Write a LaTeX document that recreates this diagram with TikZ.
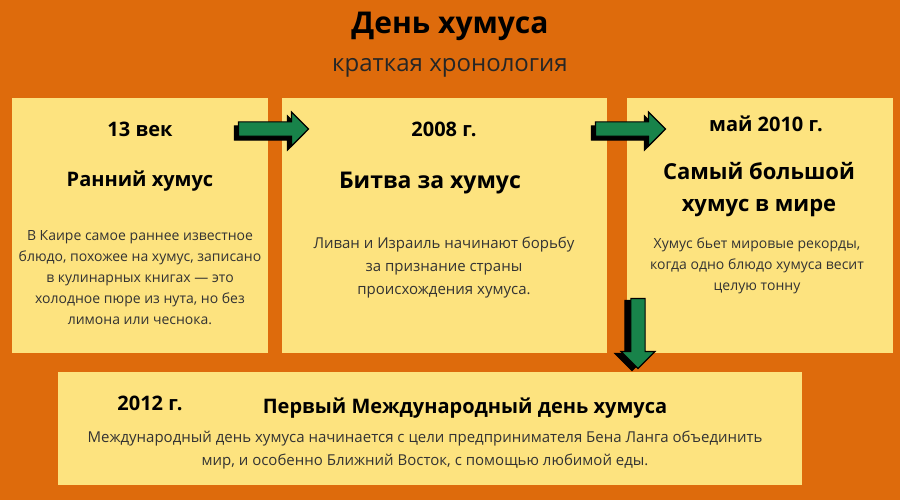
\documentclass[tikz,border=0pt]{standalone}
\usepackage{fontspec}
\setmainfont{Open Sans}
\usetikzlibrary{shapes.arrows}
\definecolor{bg}{HTML}{DE6B0C}
\definecolor{card}{HTML}{FDE37F}
\definecolor{grn}{HTML}{18834A}
\tikzset{
 card/.style={fill=card,draw=none},
 hd/.style={font=\bfseries\fontsize{20}{24}\selectfont,align=center},
 bd/.style={font=\fontsize{14}{21}\selectfont,align=center,text=black!80},
 arr/.style={single arrow,fill=grn,draw=black,line width=1.2pt,minimum height=70pt,minimum width=34pt,single arrow head extend=5pt,inner sep=3pt},
 arrsh/.style={arr,fill=black}
}
\begin{document}
\begin{tikzpicture}[x=1pt,y=-1pt]
\fill[bg] (0,0) rectangle (900,500);
\useasboundingbox (0,0) rectangle (900,500);
\node[font=\bfseries\fontsize{30}{34}\selectfont] (t) at (450,26) {День хумуса};
\node[font=\fontsize{24}{28}\selectfont,text=black!85] (st) at (450,68) {краткая хронология};
\fill[card] (12,98) rectangle (268,353);
\fill[card] (282,98) rectangle (607,353);
\fill[card] (627,98) rectangle (893,353);
\fill[card] (58,372) rectangle (802,485);
\node[hd] (y1) at (140,129) {13 век};
\node[hd] (h1) at (140,181) {Ранний хумус};
\node[bd] (b1) at (140,278) {В Каире самое раннее известное\\блюдо, похожее на хумус, записано\\в кулинарных книгах — это\\холодное пюре из нута, но без\\лимона или чеснока.};
\node[hd] (y2) at (444,129) {2008 г.};
\node[hd,font=\bfseries\fontsize{23}{27}\selectfont] (h2) at (430,183) {Битва за хумус};
\node[bd,font=\fontsize{15}{23}\selectfont] (b2) at (444,268) {Ливан и Израиль начинают борьбу\\за признание страны\\происхождения хумуса.};
\node[hd] (y3) at (766,124) {май 2010 г.};
\node[hd,font=\bfseries\fontsize{22}{32}\selectfont] (h3) at (759,190) {Самый большой\\хумус в мире};
\node[bd] (b3) at (757,266) {Хумус бьет мировые рекорды,\\когда одно блюдо хумуса весит\\целую тонну};
\node[hd] (y4) at (150,403) {2012 г.};
\node[hd] (h4) at (465,408) {Первый Международный день хумуса};
\node[bd,font=\fontsize{15}{23}\selectfont] (b4) at (425,450) {Международный день хумуса начинается с цели предпринимателя Бена Ланга объединить\\мир, и особенно Ближний Восток, с помощью любимой еды.};
\node[arrsh] at (266,133) {};
\node[arr] (a1) at (270,129) {};
\node[arrsh] at (623,133) {};
\node[arr] (a2) at (627,129) {};
\node[arrsh,rotate=-90] at (632,332) {};
\node[arr,rotate=-90] (a3) at (638,330) {};
\end{tikzpicture}
\end{document}
